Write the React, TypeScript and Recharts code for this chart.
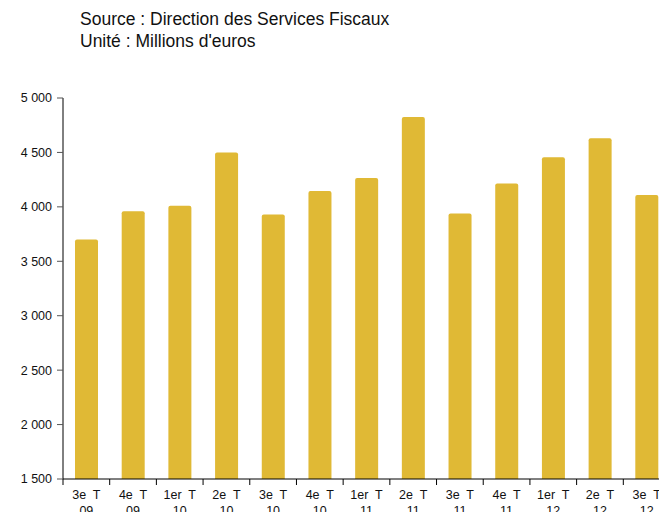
import { Bar, BarChart, XAxis, YAxis } from "recharts";

const quarters = ["3e  T", "4e  T", "1er  T", "2e  T", "3e  T", "4e  T", "1er  T", "2e  T", "3e  T", "4e  T", "1er  T", "2e  T", "3e  T"];
const years = ["09", "09", "10", "10", "10", "10", "11", "11", "11", "11", "12", "12", "12"];
const recettes = [3700, 3960, 4010, 4500, 3930, 4145, 4265, 4825, 3940, 4215, 4455, 4630, 4110];
const yTicks = [1500, 2000, 2500, 3000, 3500, 4000, 4500, 5000];

const data = quarters.map((q, i) => ({ label: q, year: years[i], value: recettes[i] }));

const CHART_W = 680;
const CHART_H = 540;
const X_AXIS_H = 30;
const MARGIN = { top: 98, right: 10, left: 0, bottom: CHART_H - 479 - X_AXIS_H };
const Y_AXIS_W = 63;
const BAND = (CHART_W - MARGIN.left - MARGIN.right - Y_AXIS_W) / data.length;

const fmt = (v: number) => String(v).replace(/\B(?=(\d{3})+(?!\d))/g, " ");

function QuarterTick(props: any) {
  const { x, y, payload, index } = props;
  const d = data[index] ?? data[0];
  return (
    <g>
      <line x1={x - BAND / 2} y1={y} x2={x - BAND / 2} y2={y + 6} stroke="#000" />
      {index === data.length - 1 && (
        <line x1={x + BAND / 2} y1={y} x2={x + BAND / 2} y2={y + 6} stroke="#000" />
      )}
      <text x={x} y={y + 20} textAnchor="middle" fontSize={12.5} fill="#111" style={{ whiteSpace: "pre" }}>
        {payload.value}
      </text>
      <text x={x} y={y + 36} textAnchor="middle" fontSize={12.5} fill="#111">
        {d.year}
      </text>
    </g>
  );
}

export default function App() {
  return (
    <div
      style={{
        position: "fixed",
        left: 0,
        top: 0,
        width: 659,
        height: 512,
        overflow: "hidden",
        background: "#fff",
        fontFamily: "'Liberation Sans', Arial, sans-serif",
      }}
    >
      <div style={{ position: "absolute", left: 80, top: 8, fontSize: 17.5, lineHeight: "22px", color: "#111" }}>
        <div>Source : Direction des Services Fiscaux</div>
        <div>Unité : Millions d'euros</div>
      </div>
      <BarChart width={CHART_W} height={CHART_H} data={data} margin={MARGIN}>
        <XAxis
          dataKey="label"
          height={X_AXIS_H}
          axisLine={{ stroke: "#000" }}
          tickLine={false}
          tickSize={0}
          tickMargin={0}
          interval={0}
          tick={<QuarterTick />}
        />
        <YAxis
          width={Y_AXIS_W}
          domain={[1500, 5000]}
          ticks={yTicks}
          allowDataOverflow
          tickFormatter={fmt}
          axisLine={{ stroke: "#000" }}
          tickLine={{ stroke: "#555" }}
          tickSize={6}
          tickMargin={5}
          tick={{ fill: "#111", fontSize: 12.5 }}
        />
        <Bar dataKey="value" fill="#E0B935" barSize={23} radius={[2, 2, 0, 0]} isAnimationActive={false} />
      </BarChart>
    </div>
  );
}
